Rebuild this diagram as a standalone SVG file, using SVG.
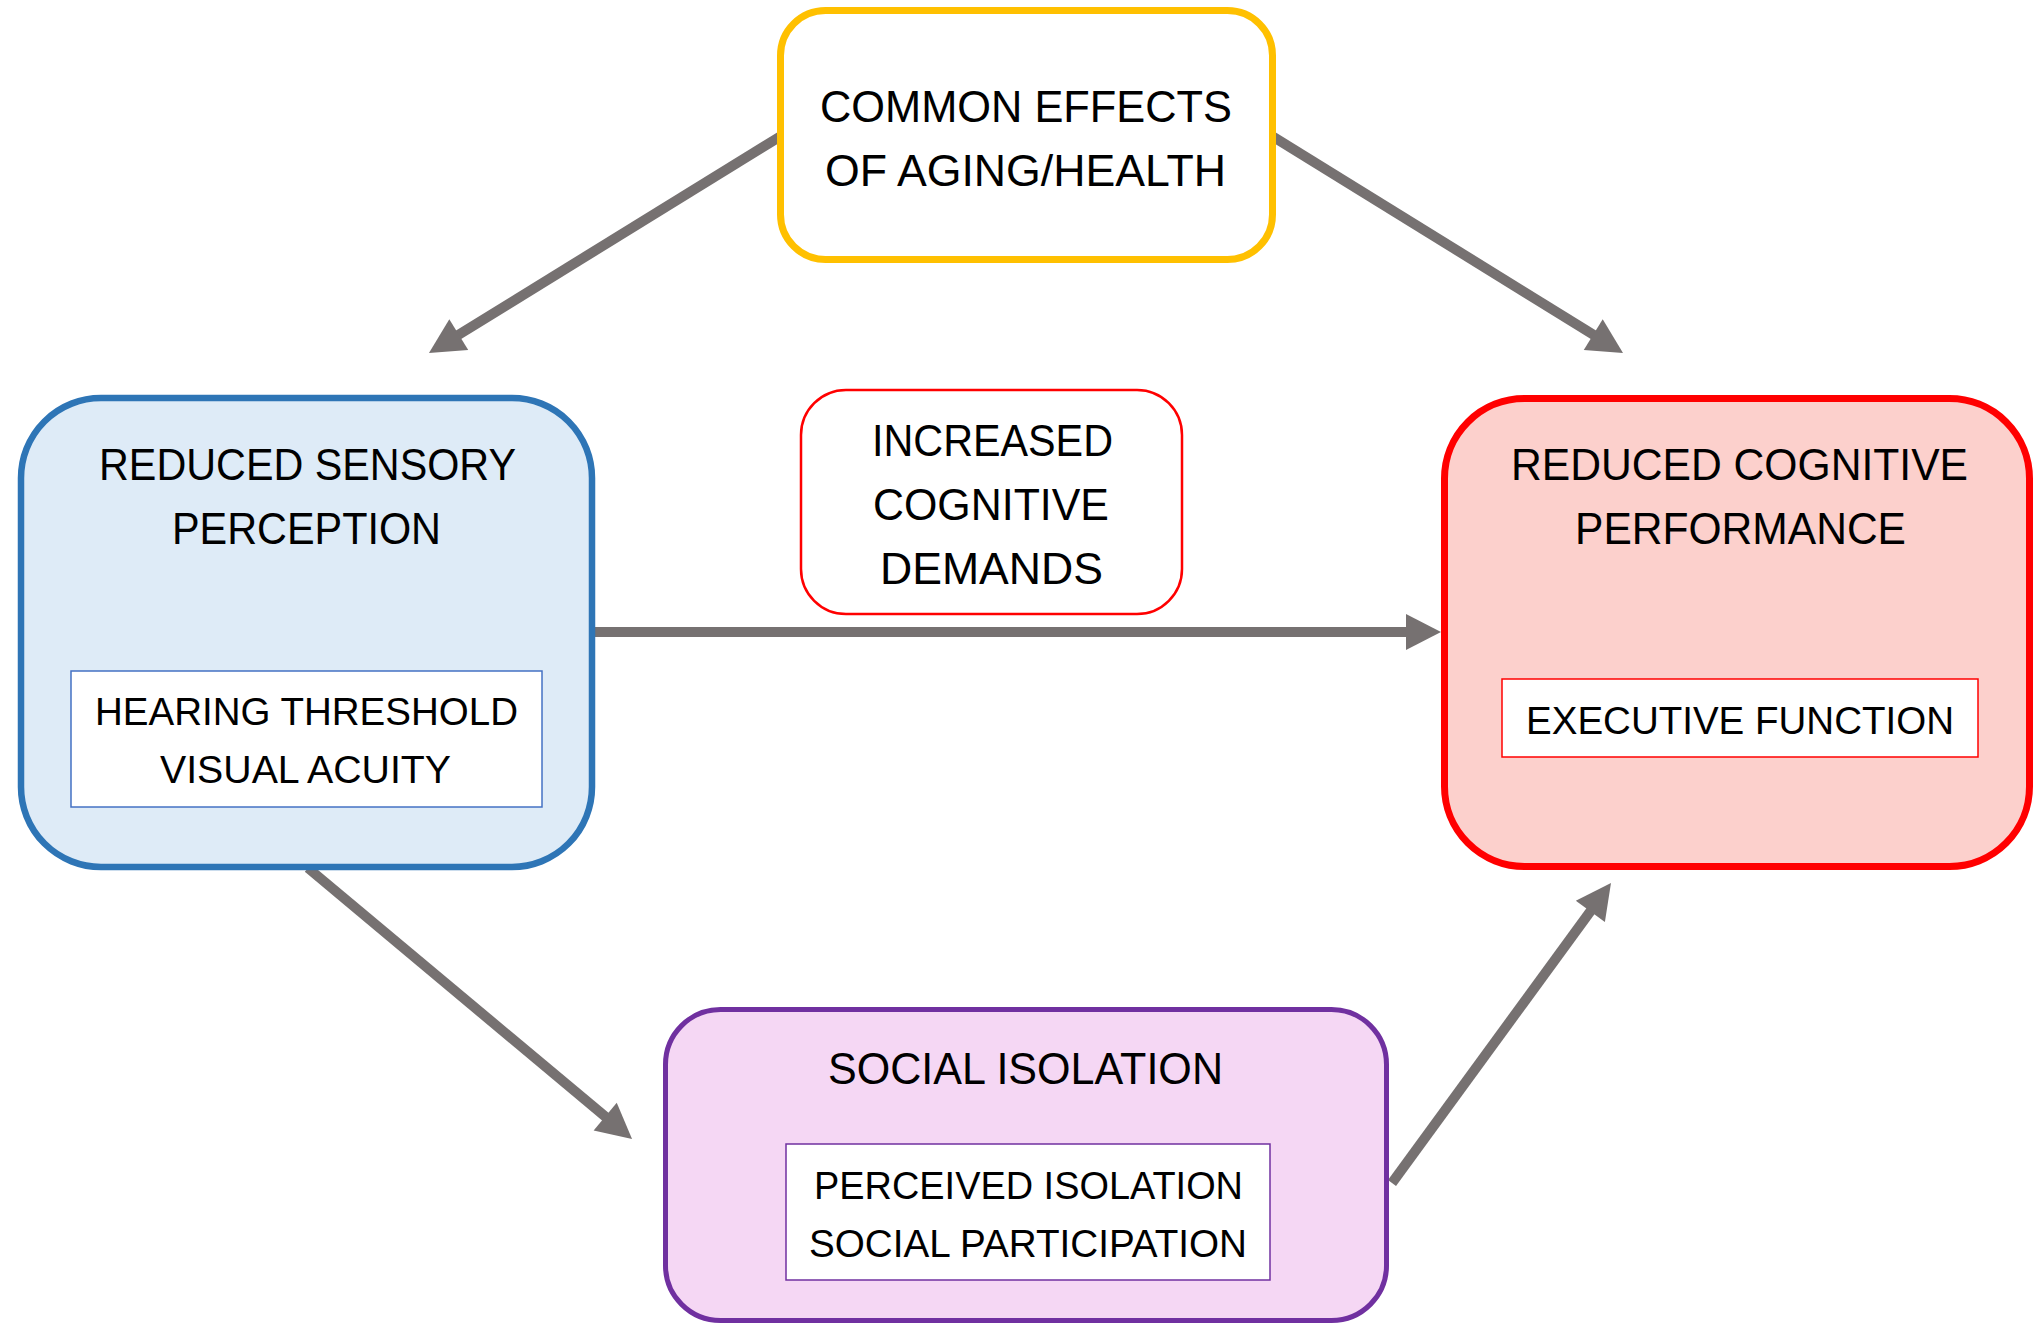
<svg xmlns="http://www.w3.org/2000/svg" width="2036" height="1326" viewBox="0 0 2036 1326">
<style>
text{font-family:"Liberation Sans",Arial,sans-serif;fill:#000;text-anchor:middle}
.t{font-size:45px}
.s{font-size:39px}
.conn line{stroke:#767171;stroke-width:10;fill:none;marker-end:url(#ah)}
.inner{fill:#fff;stroke-width:1.5}
</style>
<defs>
<marker id="ah" markerUnits="userSpaceOnUse" viewBox="0 0 35 36" markerWidth="35" markerHeight="36" refX="15" refY="18" orient="auto" overflow="visible">
<path d="M0,0 L35,18 L0,36 Z" fill="#767171"/>
</marker>
</defs>
<rect width="2036" height="1326" fill="#fff"/>
<g id="connectors" class="conn">
<line x1="781" y1="136" x2="446" y2="342.5"/>
<line x1="1272" y1="136" x2="1606" y2="342.5"/>
<line x1="595" y1="632" x2="1421" y2="632"/>
<line x1="308" y1="868" x2="616.7" y2="1126.2"/>
<line x1="1392" y1="1183" x2="1599.2" y2="899.2"/>
</g>
<g id="common-effects">
<rect x="780.5" y="10.5" width="492" height="249" rx="45" fill="#fff" stroke="#FFC000" stroke-width="7"/>
<text class="t" x="1026" y="122" textLength="412" lengthAdjust="spacingAndGlyphs">COMMON EFFECTS</text>
<text class="t" x="1025.5" y="186" textLength="401" lengthAdjust="spacingAndGlyphs">OF AGING/HEALTH</text>
</g>
<g id="sensory">
<rect x="21" y="398" width="571" height="469" rx="80" fill="#DEEBF7" stroke="#2E75B6" stroke-width="6.5"/>
<text class="t" x="307.5" y="480" textLength="417" lengthAdjust="spacingAndGlyphs">REDUCED SENSORY</text>
<text class="t" x="306.5" y="544" textLength="269" lengthAdjust="spacingAndGlyphs">PERCEPTION</text>
<g id="sensory-measures">
<rect class="inner" x="71" y="671" width="471" height="136" stroke="#4472C4"/>
<text class="s" x="306.5" y="725" textLength="423" lengthAdjust="spacingAndGlyphs">HEARING THRESHOLD</text>
<text class="s" x="305.5" y="783" textLength="291" lengthAdjust="spacingAndGlyphs">VISUAL ACUITY</text>
</g>
</g>
<g id="cognitive-demands">
<rect x="801" y="390" width="381" height="224" rx="45" fill="#fff" stroke="#FF0000" stroke-width="2.5"/>
<text class="t" x="992.5" y="456" textLength="241" lengthAdjust="spacingAndGlyphs">INCREASED</text>
<text class="t" x="991" y="520" textLength="236" lengthAdjust="spacingAndGlyphs">COGNITIVE</text>
<text class="t" x="991.5" y="584" textLength="223" lengthAdjust="spacingAndGlyphs">DEMANDS</text>
</g>
<g id="cognitive-performance">
<rect x="1444.5" y="398.5" width="585" height="468" rx="80" fill="#FCD0CC" stroke="#FF0000" stroke-width="7"/>
<text class="t" x="1739.5" y="480" textLength="457" lengthAdjust="spacingAndGlyphs">REDUCED COGNITIVE</text>
<text class="t" x="1740.5" y="544" textLength="331" lengthAdjust="spacingAndGlyphs">PERFORMANCE</text>
<g id="cognitive-measures">
<rect class="inner" x="1502" y="679" width="476" height="78" stroke="#FF0000"/>
<text class="s" x="1740" y="734" textLength="428" lengthAdjust="spacingAndGlyphs">EXECUTIVE FUNCTION</text>
</g>
</g>
<g id="social-isolation">
<rect x="665.5" y="1009.5" width="721" height="311" rx="55" fill="#F5D7F4" stroke="#7030A0" stroke-width="5"/>
<text class="t" x="1025.5" y="1084" textLength="395" lengthAdjust="spacingAndGlyphs">SOCIAL ISOLATION</text>
<g id="social-measures">
<rect class="inner" x="786" y="1144" width="484" height="136" stroke="#7030A0"/>
<text class="s" x="1028.5" y="1199" textLength="429" lengthAdjust="spacingAndGlyphs">PERCEIVED ISOLATION</text>
<text class="s" x="1028" y="1257" textLength="438" lengthAdjust="spacingAndGlyphs">SOCIAL PARTICIPATION</text>
</g>
</g>
</svg>
